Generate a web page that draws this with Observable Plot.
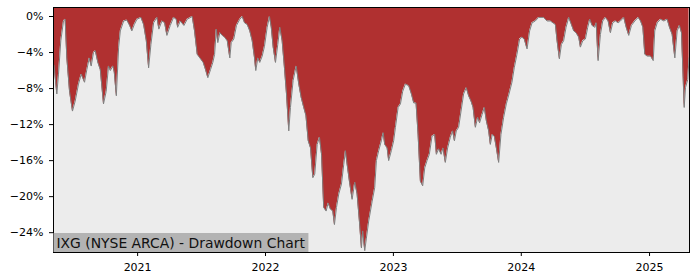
<!DOCTYPE html>
<html>
<head>
<meta charset="utf-8">
<script src="https://cdn.jsdelivr.net/npm/d3@7"></script>
<script src="https://cdn.jsdelivr.net/npm/@observablehq/plot@0.6"></script>
<style>
  html, body { margin: 0; padding: 0; background: #ffffff; }
  #chart { width: 700px; height: 280px; }
</style>
</head>
<body>
<div id="chart"></div>
<script>
// Time as decimal years
const years = [
  2020.348, 2020.370, 2020.383, 2020.401, 2020.422, 2020.435, 2020.448, 2020.469, 2020.492, 2020.513,
  2020.539, 2020.560, 2020.586, 2020.604, 2020.623, 2020.638, 2020.656, 2020.670, 2020.690, 2020.709,
  2020.734, 2020.755, 2020.773, 2020.787, 2020.807, 2020.818, 2020.834, 2020.852, 2020.865, 2020.891,
  2020.916, 2020.938, 2020.955, 2020.974, 2020.995, 2021.026, 2021.047, 2021.068, 2021.086, 2021.104,
  2021.125, 2021.151, 2021.166, 2021.190, 2021.211, 2021.229, 2021.255, 2021.281, 2021.302, 2021.313,
  2021.334, 2021.362, 2021.388, 2021.427, 2021.445, 2021.466, 2021.487, 2021.513, 2021.531, 2021.549,
  2021.570, 2021.588, 2021.602, 2021.615, 2021.627, 2021.643, 2021.662, 2021.680, 2021.701, 2021.721,
  2021.732, 2021.752, 2021.773, 2021.799, 2021.818, 2021.836, 2021.857, 2021.877, 2021.896, 2021.914,
  2021.924, 2021.940, 2021.955, 2021.974, 2021.992, 2022.013, 2022.031, 2022.045, 2022.060, 2022.078,
  2022.096, 2022.112, 2022.130, 2022.148, 2022.164, 2022.182, 2022.195, 2022.216, 2022.240, 2022.260,
  2022.279, 2022.299, 2022.316, 2022.334, 2022.352, 2022.370, 2022.385, 2022.404, 2022.422, 2022.438,
  2022.455, 2022.474, 2022.490, 2022.508, 2022.526, 2022.539, 2022.555, 2022.573, 2022.594, 2022.612,
  2022.625, 2022.638, 2022.656, 2022.677, 2022.698, 2022.716, 2022.734, 2022.750, 2022.760, 2022.776,
  2022.789, 2022.807, 2022.834, 2022.854, 2022.867, 2022.885, 2022.906, 2022.920, 2022.932, 2022.951,
  2022.963, 2022.984, 2023.002, 2023.016, 2023.037, 2023.055, 2023.073, 2023.094, 2023.120, 2023.141,
  2023.159, 2023.177, 2023.193, 2023.211, 2023.229, 2023.245, 2023.263, 2023.281, 2023.302, 2023.323,
  2023.336, 2023.354, 2023.373, 2023.388, 2023.406, 2023.424, 2023.445, 2023.463, 2023.477, 2023.492,
  2023.510, 2023.529, 2023.549, 2023.570, 2023.588, 2023.607, 2023.623, 2023.641, 2023.659, 2023.674,
  2023.693, 2023.711, 2023.727, 2023.745, 2023.758, 2023.773, 2023.789, 2023.805, 2023.823, 2023.841,
  2023.862, 2023.883, 2023.904, 2023.927, 2023.945, 2023.966, 2023.987, 2024.005, 2024.023, 2024.045,
  2024.065, 2024.084, 2024.109, 2024.135, 2024.174, 2024.201, 2024.227, 2024.266, 2024.279, 2024.297,
  2024.313, 2024.330, 2024.349, 2024.370, 2024.391, 2024.409, 2024.427, 2024.448, 2024.461, 2024.479,
  2024.500, 2024.518, 2024.534, 2024.552, 2024.573, 2024.584, 2024.599, 2024.617, 2024.635, 2024.656,
  2024.677, 2024.695, 2024.713, 2024.734, 2024.755, 2024.773, 2024.799, 2024.818, 2024.838, 2024.859,
  2024.885, 2024.912, 2024.930, 2024.948, 2024.963, 2024.982, 2025.008, 2025.029, 2025.041, 2025.060,
  2025.086, 2025.112, 2025.138, 2025.156, 2025.177, 2025.198, 2025.216, 2025.234, 2025.250, 2025.263,
  2025.271, 2025.281, 2025.299, 2025.309
];

// Drawdown in percent
const drawdown = [
  -5.4, -8.6, -6.4, -2.7, -0.5, -0.3, -4.6, -8.3, -10.5, -9.4,
  -7.5, -6.4, -7.3, -5.9, -4.6, -5.5, -4.0, -3.8, -5.1, -5.9,
  -9.7, -8.3, -5.5, -6.0, -5.5, -6.2, -8.8, -3.4, -1.6, -0.5,
  -0.4, -1.0, -1.6, -0.9, -0.3, -0.1, -0.9, -2.7, -5.7, -3.1,
  -0.7, -0.1, -1.4, -0.5, -0.7, -2.1, -1.0, -0.1, -0.3, -1.2,
  -0.5, -1.0, -0.3, 0.0, -1.6, -4.2, -4.6, -5.1, -5.9, -6.8,
  -5.9, -5.1, -4.2, -1.4, -2.9, -1.8, -2.1, -2.3, -2.7, -4.6,
  -2.9, -2.5, -1.0, -0.3, 0.0, -0.7, -0.9, -1.6, -2.7, -4.6,
  -6.0, -4.6, -5.1, -4.4, -3.3, -1.2, 0.0, -1.2, -3.4, -5.1,
  -3.1, -1.2, -2.7, -5.7, -8.6, -12.7, -10.1, -7.1, -5.5, -7.5,
  -9.0, -10.1, -11.0, -13.8, -14.6, -17.9, -17.5, -14.2, -13.4, -15.3,
  -21.2, -21.6, -20.7, -21.4, -21.6, -23.1, -21.2, -19.7, -18.6, -16.4,
  -14.9, -16.4, -18.3, -20.3, -18.4, -19.7, -22.7, -25.7, -23.8, -26.0,
  -24.6, -22.7, -20.5, -19.0, -16.0, -14.9, -13.8, -12.9, -14.2, -14.6,
  -16.0, -14.9, -13.8, -12.3, -10.1, -9.7, -8.3, -7.5, -7.7, -8.6,
  -9.6, -9.6, -13.1, -18.3, -18.8, -16.8, -16.0, -15.3, -13.3, -13.1,
  -15.3, -14.7, -15.3, -14.6, -16.2, -14.6, -13.4, -12.7, -13.8, -12.7,
  -12.3, -10.5, -8.6, -7.9, -8.8, -9.4, -10.1, -12.3, -11.2, -11.8,
  -10.9, -10.1, -11.6, -12.7, -14.2, -13.1, -13.3, -14.6, -16.2, -13.1,
  -11.2, -9.7, -8.6, -7.3, -5.7, -4.2, -2.5, -2.3, -2.5, -3.6,
  -1.6, -0.7, -0.5, -0.1, -0.1, -0.5, -0.5, -0.9, -2.7, -4.7,
  -3.1, -2.7, -1.2, -0.1, -0.9, -1.6, -1.8, -2.3, -3.4, -2.7,
  -2.5, -1.2, -0.3, -1.0, -1.2, -0.7, -4.9, -2.0, -0.5, -0.1,
  -0.5, -1.8, -0.7, -0.5, -0.7, -0.5, -0.1, -1.2, -2.1, -1.0,
  -0.5, -0.1, -0.5, -1.2, -4.2, -4.4, -4.4, -4.9, -1.6, -0.7,
  -0.3, -0.5, -0.3, -1.2, -2.0, -4.6, -1.6, -1.0, -1.8, -6.8,
  -10.1, -7.9, -7.0, -4.6
];

const xDomainYears = [2020.344, 2025.3125];
const yDomain = [-26.2, 1];
const yTicks = [0, -4, -8, -12, -16, -20, -24];
const xTickYears = [2021, 2022, 2023, 2024, 2025];
const titleText = "IXG (NYSE ARCA) - Drawdown Chart";

function yearToDate(t) {
  const y = Math.floor(t);
  const a = Date.UTC(y, 0, 1), b = Date.UTC(y + 1, 0, 1);
  return new Date(a + (t - y) * (b - a));
}

const data = years.map((t, i) => ({ date: yearToDate(t), dd: drawdown[i] }));
const yTop = yDomain[1];

const chart = Plot.plot({
  width: 700,
  height: 280,
  marginLeft: 53,
  marginRight: 11,
  marginTop: 7,
  marginBottom: 28,
  style: { background: "transparent", fontFamily: "'DejaVu Sans', sans-serif", fontSize: "11px", color: "#000" },
  x: { type: "utc", domain: xDomainYears.map(yearToDate) },
  y: { domain: yDomain },
  marks: [
    Plot.frame({ fill: "#ececec" }),
    Plot.areaY(data, { x: "date", y1: "dd", y2: () => yTop, fill: "#b03030", curve: "linear" }),
    Plot.lineY(data, { x: "date", y: "dd", stroke: "#7f7f7f", strokeWidth: 1 }),
    Plot.frame({ stroke: "#000", strokeWidth: 1 }),
    Plot.axisY({
      ticks: yTicks, tickSize: 4, tickPadding: 6, label: null,
      tickFormat: d => (d === 0 ? "0" : "\u2212" + Math.abs(d)) + "%",
      fontSize: 11, stroke: "#000"
    }),
    Plot.axisX({
      ticks: xTickYears.map(yearToDate), tickSize: 4, tickPadding: 7, label: null,
      tickFormat: d3.utcFormat("%Y"), fontSize: 11, stroke: "#000"
    }),
    Plot.text([titleText], {
      frameAnchor: "bottom-left", text: d => d, dx: 3, dy: -5,
      fontSize: 13.9, fill: "#111", textAnchor: "start", lineAnchor: "bottom",
      className: "dd-title"
    })
  ]
});

document.getElementById("chart").appendChild(chart);

// Grey box behind the title, sized from the rendered text
const titleNode = chart.querySelector("g.dd-title text");
if (titleNode) {
  const svgBox = chart.getBoundingClientRect();
  const tb = titleNode.getBoundingClientRect();
  const right = tb.right - svgBox.left;
  const rect = document.createElementNS("http://www.w3.org/2000/svg", "rect");
  rect.setAttribute("x", 53.5);
  rect.setAttribute("y", 233);
  rect.setAttribute("width", right + 3 - 53.5);
  rect.setAttribute("height", 19);
  rect.setAttribute("fill", "#b3b3b3");
  const g = titleNode.parentNode;
  g.parentNode.insertBefore(rect, g);
}
</script>
</body>
</html>
